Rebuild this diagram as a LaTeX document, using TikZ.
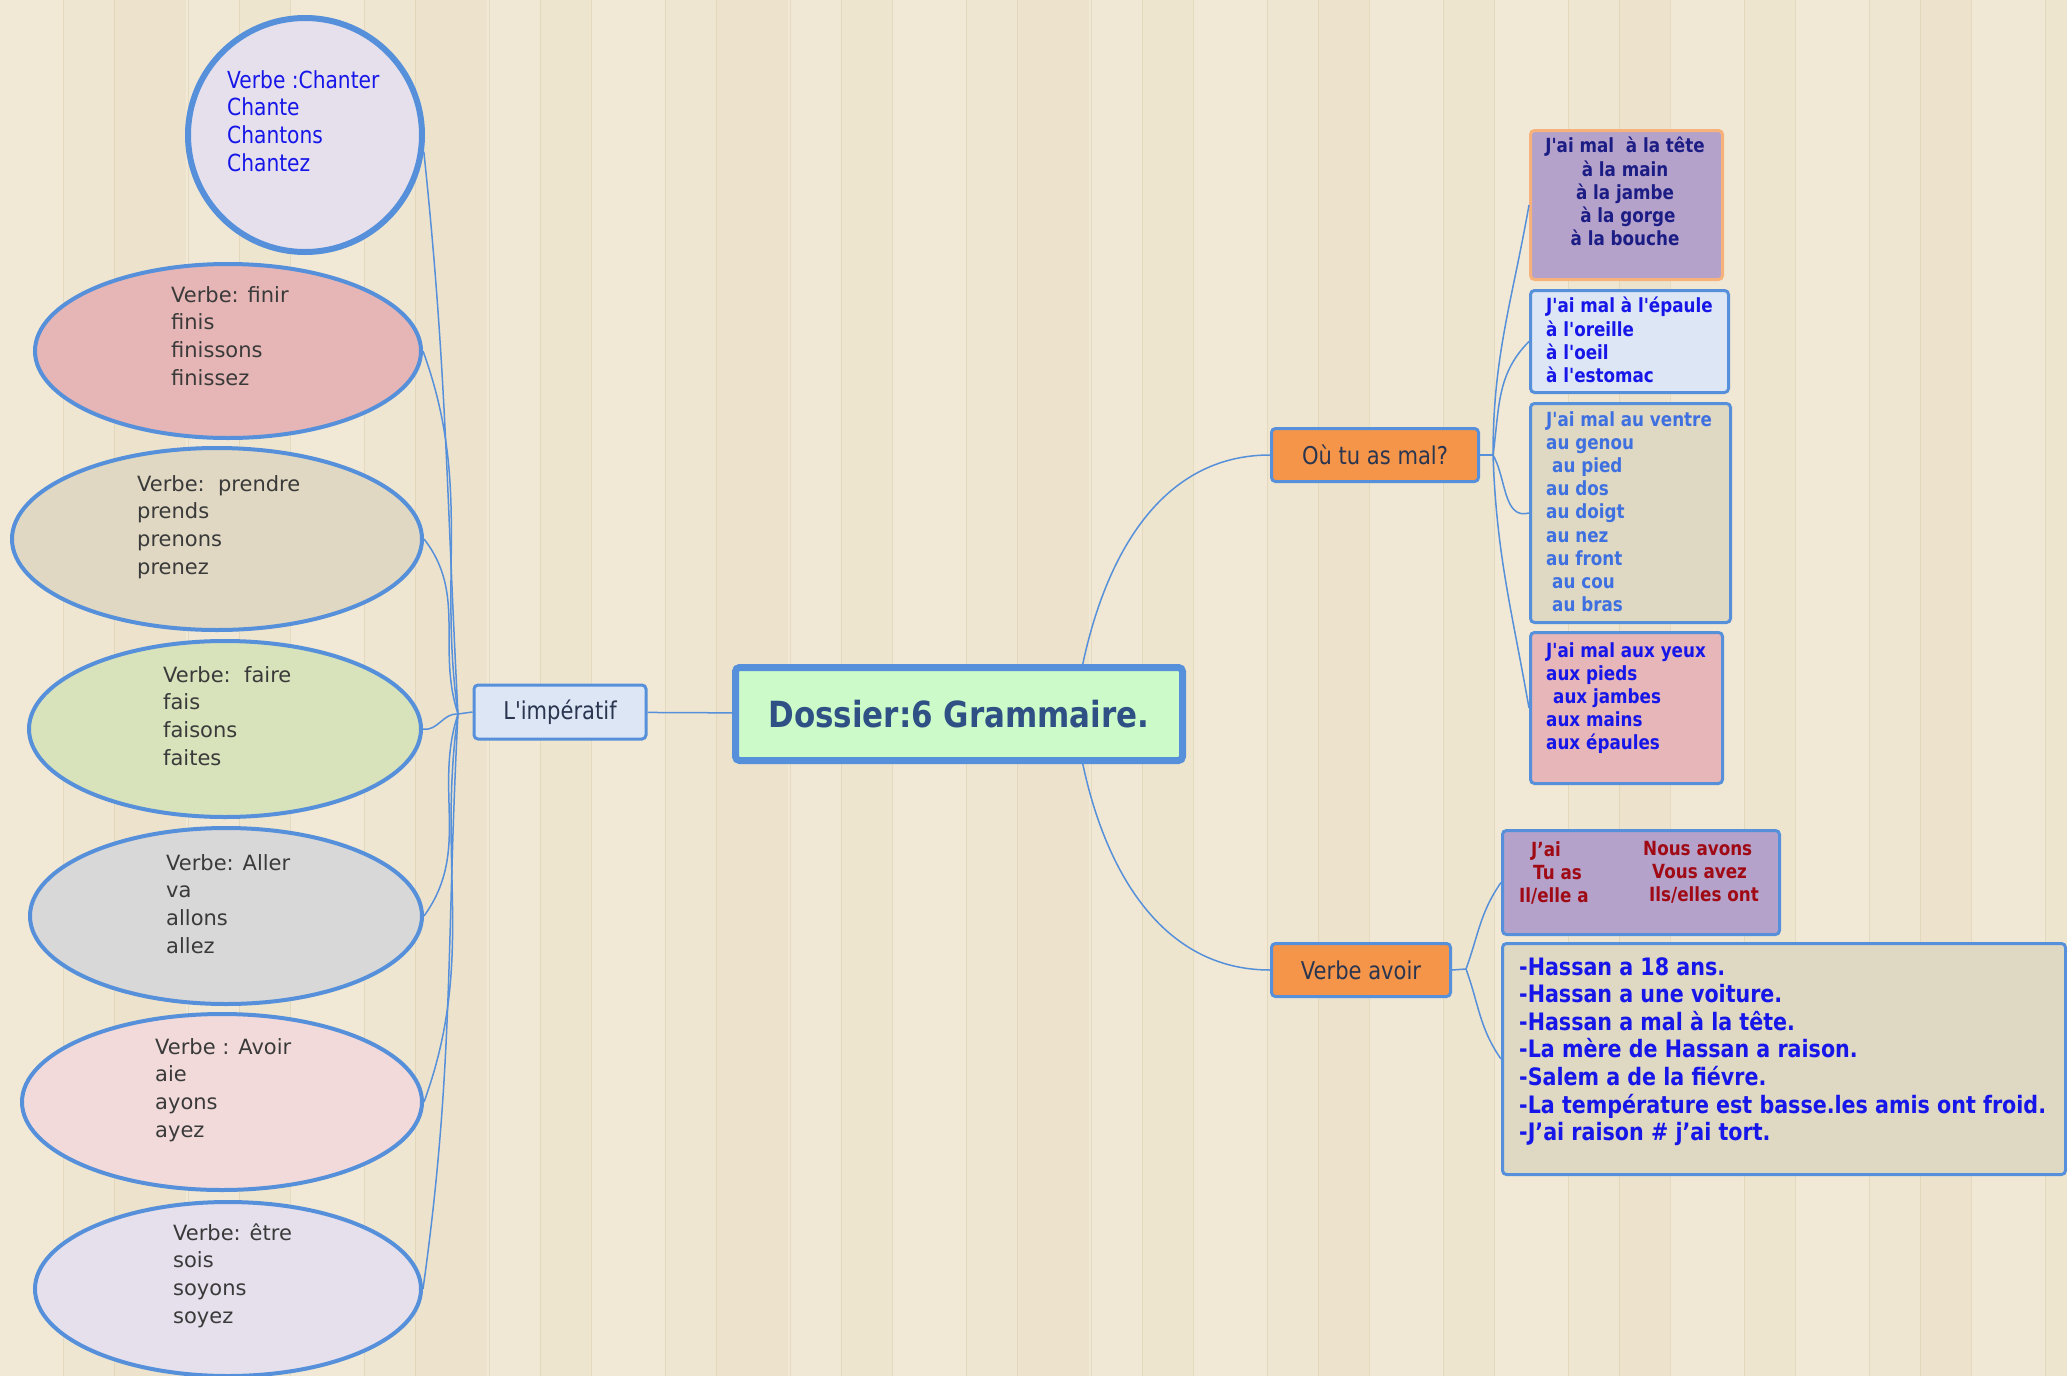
\documentclass[tikz,border=0pt]{standalone}
\usepackage{fontspec}
\setmainfont{DejaVu Sans}
\newfontfamily\narrowfont[FakeStretch=0.86]{DejaVu Sans}
\usetikzlibrary{shapes.geometric}

\definecolor{woodlight}{HTML}{F1E9D6}
\definecolor{wooddark}{HTML}{E2D2AE}
\definecolor{woodline}{HTML}{D8C9A6}
\definecolor{linkblue}{HTML}{5690DA}
\definecolor{verbegray}{HTML}{3A3A3A}
\definecolor{darktext}{HTML}{2A3550}
\definecolor{roottext}{HTML}{2E5085}
\definecolor{rootfill}{HTML}{CCFAC8}
\definecolor{impfill}{HTML}{DCE6F4}
\definecolor{orangefill}{HTML}{F4954A}
\definecolor{orangeline}{HTML}{F6B27A}
\definecolor{lilacfill}{HTML}{B4A2CB}
\definecolor{sandfill}{HTML}{DFD9C3}
\definecolor{rosefill}{HTML}{E6B6B8}
\definecolor{navytext}{HTML}{1C1C85}
\definecolor{bluetext}{HTML}{1616E8}
\definecolor{lightbluetext}{HTML}{3F70E0}
\definecolor{conjred}{HTML}{A00A14}
\definecolor{chanterfill}{HTML}{E6E0EC}
\definecolor{finirfill}{HTML}{E6B6B6}
\definecolor{prendrefill}{HTML}{E0D8C2}
\definecolor{fairefill}{HTML}{D8E3BC}
\definecolor{allerfill}{HTML}{D8D8D8}
\definecolor{avoirfill}{HTML}{F2DADA}

\begin{document}
\begin{tikzpicture}[x=1pt, y=-1pt,
        verbe/.style={ellipse, draw=linkblue, line width=4, inner sep=0},
        verbetext/.style={anchor=north west, inner sep=0, align=left, text=verbegray,
                          font=\fontsize{21}{27.7}\selectfont},
        topicbox/.style={rectangle, rounded corners=4, draw=linkblue, line width=3, inner sep=0},
        listtext/.style={anchor=north west, inner sep=0, align=left,
                         font=\narrowfont\bfseries\fontsize{19.5}{23.2}\selectfont},
        branch/.style={topicbox, fill=orangefill, text=darktext, minimum height=53,
                       font=\narrowfont\fontsize{24.5}{28}\selectfont},
        link/.style={linkblue, line width=1.5}]
        \useasboundingbox (0,0) rectangle (2067,1376);

        % wooden background
        \fill[woodlight] (0,0) rectangle (2067,1376);
        \foreach \i in {0,...,35} {
            \pgfmathtruncatemacro\shade{mod(\i*37,5)*6}
            \pgfmathtruncatemacro\left{\i*60+mod(\i*37,23)-11}
            \fill[wooddark!\shade!woodlight] (\left,0) rectangle ++(72,1376);
            \draw[woodline, line width=1, opacity=0.45] (\left,0) -- ++(0,1376);
        }

        % centre
        \node[topicbox, fill=rootfill, line width=7, minimum width=447, minimum height=93,
              text=roottext, font=\narrowfont\bfseries\fontsize{36}{40}\selectfont]
            (root) at (959,714) {Dossier:6 Grammaire.};

        % imperatif branch
        \node[topicbox, fill=impfill, minimum width=172, minimum height=54, text=darktext,
              font=\narrowfont\fontsize{24.5}{28}\selectfont] (imp) at (560,712) {L'impératif};
        \coordinate (imphub) at (458,714);

        \node[circle, draw=linkblue, line width=6, fill=chanterfill, minimum size=234,
              inner sep=0] (chanter) at (305,135) {};
        \node[verbetext, text=bluetext, font=\narrowfont\fontsize{23.5}{27.7}\selectfont]
            (chantertxt) at (227,70) {Verbe :Chanter\\Chante\\Chantons\\Chantez};

        \node[verbe, fill=finirfill, minimum width=386, minimum height=174] (finir) at (228,351) {};
        \node[verbetext] (finirtxt) at (171,286) {Verbe: finir\\finis\\finissons\\finissez};

        \node[verbe, fill=prendrefill, minimum width=410, minimum height=182] (prendre) at (217,539) {};
        \node[verbetext] (prendretxt) at (137,475) {Verbe:\ \ prendre\\prends\\prenons\\prenez};

        \node[verbe, fill=fairefill, minimum width=392, minimum height=176] (faire) at (225,729) {};
        \node[verbetext] (fairetxt) at (163,666) {Verbe:\ \ faire\\fais\\faisons\\faites};

        \node[verbe, fill=allerfill, minimum width=392, minimum height=176] (aller) at (226,916) {};
        \node[verbetext] (allertxt) at (166,854) {Verbe: Aller\\va\\allons\\allez};

        \node[verbe, fill=avoirfill, minimum width=400, minimum height=176] (avoir) at (222,1102) {};
        \node[verbetext] (avoirtxt) at (155,1038) {Verbe : Avoir\\aie\\ayons\\ayez};

        \node[verbe, fill=chanterfill, minimum width=386, minimum height=174] (etre) at (228,1289) {};
        \node[verbetext] (etretxt) at (173,1223) {Verbe: être\\sois\\soyons\\soyez};

        \draw[link] (imp) -- (root);
        \draw[link] (imp.west) -- (imphub);
        \draw[link] (imphub) to[out=93,  in=-84] (chanter.-8);
        \draw[link] (imphub) to[out=98,  in=-70] (finir.east);
        \draw[link] (imphub) to[out=108, in=-52] (prendre.east);
        \draw[link] (imphub) to[out=175, in=-10] (faire.east);
        \draw[link] (imphub) to[out=-108, in=54] (aller.east);
        \draw[link] (imphub) to[out=-98,  in=70] (avoir.east);
        \draw[link] (imphub) to[out=-93,  in=82] (etre.east);

        % ou tu as mal
        \node[branch, minimum width=207] (ou) at (1375,455) {Où tu as mal?};
        \coordinate (ouhub) at (1493,455);

        \node[topicbox, anchor=north west, draw=orangeline, fill=lilacfill,
              minimum width=192, minimum height=149] (tete) at (1529,129) {};
        \node[listtext, anchor=north, align=center, text=navytext] (tetetxt) at (1625,137)
            {J'ai mal \ à la tête\\à la main\\à la jambe\\\ à la gorge\\à la bouche};

        \node[topicbox, anchor=north west, fill=impfill,
              minimum width=198, minimum height=102] (epaule) at (1529,289) {};
        \node[listtext, text=bluetext] (epauletxt) at (1546,297)
            {J'ai mal à l'épaule\\à l'oreille\\à l'oeil\\à l'estomac};

        \node[topicbox, anchor=north west, fill=sandfill,
              minimum width=200, minimum height=219] (ventre) at (1529,402) {};
        \node[listtext, text=lightbluetext] (ventretxt) at (1546,411)
            {J'ai mal au ventre\\au genou\\\hspace{6pt}au pied\\au dos\\au doigt\\au nez\\au front\\\hspace{6pt}au cou\\\hspace{6pt}au bras};

        \node[topicbox, anchor=north west, fill=rosefill,
              minimum width=192, minimum height=151] (yeux) at (1529,631) {};
        \node[listtext, text=bluetext] (yeuxtxt) at (1546,642)
            {J'ai mal aux yeux\\aux pieds\\\hspace{7pt}aux jambes\\aux mains\\aux épaules};

        \draw[link] (root.22) to[out=78, in=180] (ou.west);
        \draw[link] (ou.east) -- (ouhub);
        \draw[link] (ouhub) to[out=90,  in=-100] (tete.west);
        \draw[link] (ouhub) to[out=82,  in=-135] (epaule.west);
        \draw[link] (ouhub) to[out=-60, in=-165] (ventre.west);
        \draw[link] (ouhub) to[out=-88, in=100]  (yeux.west);

        % verbe avoir
        \node[branch, minimum width=179] (verbeavoir) at (1361,970) {Verbe avoir};
        \coordinate (avhub) at (1466,969);

        \node[topicbox, anchor=north west, fill=lilacfill,
              minimum width=277, minimum height=104] (conj) at (1501,829) {};
        \node[listtext, text=conjred] (conjsg) at (1519,841)
            {\hspace{12pt}J’ai\\\hspace{14pt}Tu as\\Il/elle a};
        \node[listtext, text=conjred] (conjpl) at (1643,841)
            {Nous avons\\\hspace{9pt}Vous avez\\\hspace{6pt}Ils/elles ont};

        \node[topicbox, anchor=north west, fill=sandfill,
              minimum width=563, minimum height=231] (phrases) at (1501,942) {};
        \node[listtext, text=bluetext, font=\narrowfont\bfseries\fontsize{24}{27.6}\selectfont]
            (phrasestxt) at (1519,957)
            {-Hassan a 18 ans.\\-Hassan a une voiture.\\-Hassan a mal à la tête.\\-La mère de Hassan a raison.\\-Salem a de la fiévre.\\-La température est basse.les amis ont froid.\\-J’ai raison \# j’ai tort.};

        \draw[link] (root.-22) to[out=-78, in=180] (verbeavoir.west);
        \draw[link] (verbeavoir.east) -- (avhub);
        \draw[link] (avhub) to[out=70,  in=-125] (conj.west);
        \draw[link] (avhub) to[out=-70, in=125]  (phrases.west);
\end{tikzpicture}
\end{document}
